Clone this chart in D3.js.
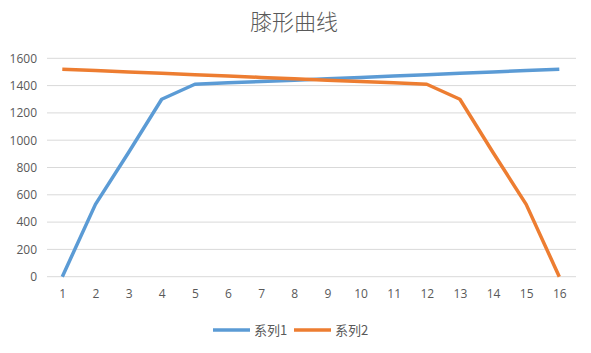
<!DOCTYPE html>
<html>
<head>
<meta charset="utf-8">
<script src="https://cdn.jsdelivr.net/npm/d3@7"></script>
<style>
    body { margin: 0; background: #fff; }
    text { font-family: "Open Sans", "Noto Sans CJK SC", sans-serif; fill: #595959; }
</style>
</head>
<body>
<svg id="chart" width="591" height="353"></svg>
<script>
const categories = ["1", "2", "3", "4", "5", "6", "7", "8", "9", "10", "11", "12", "13", "14", "15", "16"];
const series1 = [0, 530, 910, 1300, 1410, 1420, 1430, 1440, 1450, 1460, 1470, 1480, 1490, 1500, 1510, 1520];
const series2 = [1520, 1510, 1500, 1490, 1480, 1470, 1460, 1450, 1440, 1430, 1420, 1410, 1300, 910, 530, 0];
const seriesNames = ["系列1", "系列2"];
const yTicks = [0, 200, 400, 600, 800, 1000, 1200, 1400, 1600];
const title = "膝形曲线";

const colors = ["#5B9BD5", "#ED7D31"];
const svg = d3.select("#chart");

const plot = {left: 47, right: 576, top: 58.3, bottom: 276.7};

const x = d3.scalePoint().domain(categories).range([62.3, 559.3]);
const y = d3.scaleLinear().domain([0, 1600]).range([plot.bottom, plot.top]);

// gridlines
svg.append("g")
    .selectAll("line")
    .data(yTicks)
    .join("line")
    .attr("x1", plot.left)
    .attr("x2", plot.right)
    .attr("y1", d => y(d))
    .attr("y2", d => y(d))
    .attr("stroke", "#d9d9d9")
    .attr("stroke-width", 1);

// y axis labels
const yAxis = svg.append("g")
    .attr("transform", `translate(${plot.left}, 0)`)
    .call(d3.axisLeft(y).tickValues(yTicks).tickFormat(d3.format("d")).tickSize(0).tickPadding(10));
yAxis.select(".domain").remove();
yAxis.selectAll("text").style("font-size", "12px").attr("fill", "#595959")
    .style("font-family", "'Open Sans', sans-serif");

// x axis labels
const xAxis = svg.append("g")
    .attr("transform", `translate(0, ${plot.bottom})`)
    .call(d3.axisBottom(x).tickSize(0).tickPadding(13));
xAxis.select(".domain").remove();
xAxis.selectAll("text").style("font-size", "12px").attr("fill", "#595959")
    .style("font-family", "'Open Sans', sans-serif");

// lines
const line = d3.line().x((d, i) => x(categories[i])).y(d => y(d));
[series1, series2].forEach((s, i) => {
    svg.append("path")
        .datum(s)
        .attr("d", line)
        .attr("fill", "none")
        .attr("stroke", colors[i])
        .attr("stroke-width", 3.5)
        .attr("stroke-linejoin", "round");
});

// title
svg.append("text")
    .attr("x", 294)
    .attr("y", 30)
    .attr("text-anchor", "middle")
    .style("font-size", "22px")
    .style("font-family", "'Noto Sans CJK SC', sans-serif")
    .style("font-weight", 300)
    .text(title);

// legend
const legend = svg.append("g").attr("transform", "translate(213, 330)");
const legendX = [0, 81];
seriesNames.forEach((name, i) => {
    const g = legend.append("g").attr("transform", `translate(${legendX[i]}, 0)`);
    g.append("line")
        .attr("x1", 0).attr("x2", 37)
        .attr("y1", 0).attr("y2", 0)
        .attr("stroke", colors[i])
        .attr("stroke-width", 3.5);
    g.append("text")
        .attr("x", 41)
        .attr("y", 5)
        .style("font-size", "13px")
        .style("font-family", "'Noto Sans CJK SC', sans-serif")
        .text(name);
});
</script>
</body>
</html>
